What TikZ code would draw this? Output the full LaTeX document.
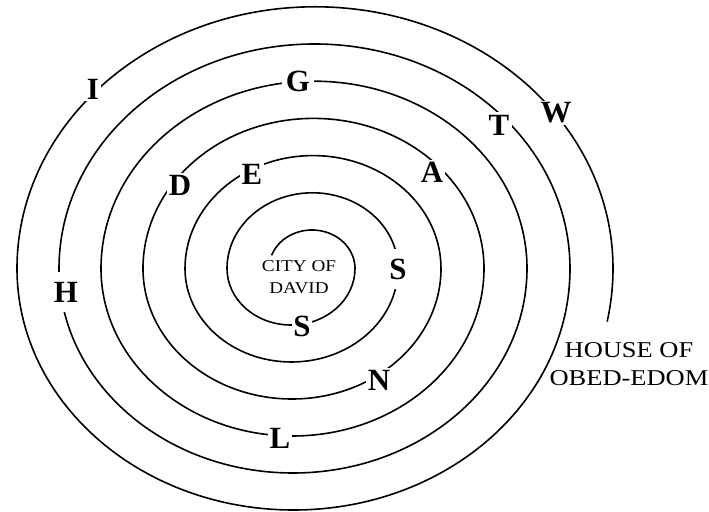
\documentclass[tikz,border=0pt]{standalone}
\usepackage{fontspec}
\setmainfont{Liberation Serif}
\usepackage{graphicx}
\tikzset{
  spiralline/.style={line width=1.6bp, black},
  letter/.style={font=\fontsize{31}{31}\selectfont\bfseries, fill=white, inner sep=1.5bp},
  caption/.style={inner sep=0pt},
}
\begin{document}
\begin{tikzpicture}[x=1bp,y=1bp]
\useasboundingbox (0,0) rectangle (709,512);
% spiral: top half-ellipses centred at (312,243.5), bottom ones at (291,243.5)
\draw[spiralline] ([shift={(312,243.5)}]160:43 and 38.5)
  arc[start angle=160, end angle=0, x radius=43, y radius=38.5]
  arc[start angle=0, end angle=-180, x radius=64, y radius=56.5]
  arc[start angle=180, end angle=0, x radius=85.5, y radius=75.7]
  arc[start angle=0, end angle=-180, x radius=106.5, y radius=93.5]
  arc[start angle=180, end angle=0, x radius=128, y radius=112.9]
  arc[start angle=0, end angle=-180, x radius=149, y radius=130.5]
  arc[start angle=180, end angle=0, x radius=170.5, y radius=150.1]
  arc[start angle=0, end angle=-180, x radius=191.5, y radius=167.5]
  arc[start angle=180, end angle=0, x radius=213, y radius=187.3]
  arc[start angle=0, end angle=-180, x radius=234, y radius=204.5]
  arc[start angle=180, end angle=0, x radius=255.5, y radius=224.5]
  arc[start angle=0, end angle=-180, x radius=276.5, y radius=241.5]
  arc[start angle=180, end angle=0, x radius=298, y radius=261.7]
  arc[start angle=0, end angle=-11, x radius=319, y radius=278.5];
% letters on the spiral
\node[letter] (s1) at (302,186) {S};
\node[letter, inner ysep=10bp] (s2) at (398,243) {S};
\node[letter] (e) at (252,338) {E};
\node[letter] (a) at (432,340) {A};
\node[letter] (d) at (180,327) {D};
\node[letter, inner xsep=4bp] (g) at (298,431) {G};
\node[letter, inner sep=3bp] (t) at (499,387) {T};
\node[letter] (w) at (556,399) {W};
\node[letter] (i) at (93,423) {I};
\node[letter, inner ysep=10bp] (h) at (66,220) {H};
\node[letter] (n) at (379,132) {N};
\node[letter] (l) at (280,74) {L};
% captions
\node[caption] (city) at (299,234) {\scalebox{1.16}[1]{\fontsize{16.6}{22}\selectfont\begin{tabular}{@{}c@{}}CITY OF\\DAVID\end{tabular}}};
\node[caption] (house) at (629,146) {\scalebox{1.17}[1]{\fontsize{22.7}{28}\selectfont\begin{tabular}{@{}c@{}}HOUSE OF\\OBED-EDOM\end{tabular}}};
\end{tikzpicture}
\end{document}
